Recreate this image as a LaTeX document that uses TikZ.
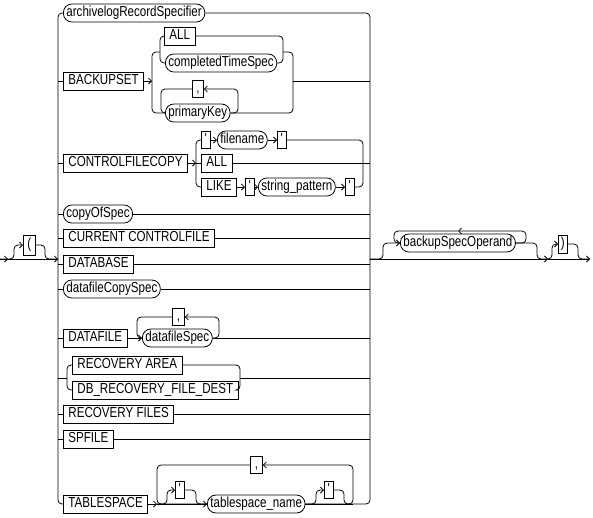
\documentclass[tikz,border=0pt]{standalone}
\usepackage{fontspec}
\setmainfont[FakeStretch=0.8]{Liberation Sans}
\usetikzlibrary{arrows.meta}

\begin{document}
\begin{tikzpicture}[x=1pt, y=-1pt, line width=0.8pt,
  >={Straight Barb[length=3pt,width=6pt]},
  every node/.style={anchor=west, inner xsep=3pt, inner ysep=0pt,
    text height=10.5pt, text depth=3pt,
    minimum height=18pt, minimum width=9pt,
    font=\fontsize{14.5pt}{16pt}\selectfont},
  kw/.style={draw, inner xsep=5pt},
  sym/.style={draw, inner xsep=2.5pt, minimum height=17pt},
  nt/.style={draw, rounded corners=8.5pt},
  rail/.style={rounded corners=4pt}]
\useasboundingbox (0,0) rectangle (593,517);

% main line
\coordinate (IN)  at (0,259);
\coordinate (INA) at (8,259);
\coordinate (LR)  at (58,259);  % left rail
\coordinate (RR)  at (370,259); % right rail
\coordinate (BSA) at (548,259);
\coordinate (OUT) at (590,259);

\draw[->] (IN) -- (INA);
\draw[->] (IN) -- (LR);

% optional (
\node[sym, minimum height=20pt, minimum width=12pt] (LP) at (23,245) {(};
\draw[->, rail] (IN) -| (14,245) -- (LP.west);
\draw[rail] (LP.east) -| (45,259) -- (LR);

% the choices
\node[nt] (ARS) at (63,13)  {archivelogRecordSpecifier};
\node[kw] (BS)  at (63,81)  {BACKUPSET};
\node[kw] (CFC) at (63,163) {CONTROLFILECOPY};
\node[nt] (COS) at (63,214) {copyOfSpec};
\node[kw] (CCF) at (63,238) {CURRENT CONTROLFILE};
\node[kw] (DB)  at (63,264) {DATABASE};
\node[nt] (DCS) at (63,289) {datafileCopySpec};
\node[kw] (DF)  at (63,338) {DATAFILE};
\node[kw] (RA)  at (72,365) {RECOVERY AREA};
\node[kw] (RFD) at (72,390) {DB\_RECOVERY\_FILE\_DEST};
\node[kw] (RF)  at (63,414) {RECOVERY FILES};
\node[kw] (SPF) at (63,439) {SPFILE};
\node[kw] (TS)  at (63,504) {TABLESPACE};

\coordinate (TSA) at (157,504);
\coordinate (TSB) at (353,504);

% rails
\draw[rail] (ARS.west) -| (LR) |- (TS.west);
\draw[rail] (ARS.east) -| (RR) |- (TSB);

\draw (LR |- BS) -- (BS.west);
\draw (LR |- CFC) -- (CFC.west);
\draw (LR |- COS) -- (COS.west);
\draw (LR |- CCF) -- (CCF.west);
\draw (LR |- DB) -- (DB.west);
\draw (LR |- DCS) -- (DCS.west);
\draw (LR |- DF) -- (DF.west);
\draw (LR |- RF) -- (RF.west);
\draw (LR |- SPF) -- (SPF.west);

\draw (COS.east) -- (RR |- COS);
\draw (CCF.east) -- (RR |- CCF);
\draw (DB.east) -- (RR |- DB);
\draw (DCS.east) -- (RR |- DCS);
\draw (RF.east) -- (RR |- RF);
\draw (SPF.east) -- (RR |- SPF);

% BACKUPSET
\coordinate (BKA) at (152,81);
\coordinate (BKB) at (293,81);
\coordinate (BKI) at (160,52);
\coordinate (BKO) at (283,52);
\coordinate (PKL) at (161,89);
\coordinate (PKR) at (238,89);
\node[kw] (BKALL) at (164,36) {ALL};
\node[nt] (CTS) at (165,63) {completedTimeSpec};
\node[sym, minimum width=11pt] (BKC) at (192,89) {,};
\node[nt] (PK) at (165,113) {primaryKey};

\draw[->] (BS.east) -- (BKA);
\draw[rail] (BKALL.west) -| (BKI) |- (CTS.west);
\draw[rail] (BKI) -| (BKA) |- (PK.west);
\draw[rail] (BKALL.east) -| (BKO) |- (CTS.east);
\draw[rail] (BKO) -| (BKB) |- (PK.east);
\draw (BKB) -- (RR |- BKB);
\draw[->, rail] (PK.east) -| (PKR) -- (BKC.east);
\draw[rail] (BKC.west) -| (PKL |- PK) -- (PK.west);

% CONTROLFILECOPY
\coordinate (CFA) at (196,163);
\coordinate (CFB) at (363,163);
\node[sym] (CQ1) at (201,140) {\textquotesingle};
\node[nt]  (FN)  at (217,140) {filename};
\node[sym] (CQ2) at (277,140) {\textquotesingle};
\node[kw]  (CFALL) at (201,163) {ALL};
\node[kw]  (LIKE) at (201,187) {LIKE};
\node[sym] (CQ3) at (245,187) {\textquotesingle};
\node[nt]  (SP)  at (258,187) {string\_pattern};
\node[sym] (CQ4) at (345,187) {\textquotesingle};

\draw[->] (CFC.east) -- (CFA);
\draw[rail] (CQ1.west) -| (CFA) |- (LIKE.west);
\draw (CFA) -- (CFALL.west);
\draw[->] (CQ1.east) -- (FN.west);
\draw[->] (FN.east) -- (CQ2.west);
\draw[->] (LIKE.east) -- (CQ3.west);
\draw[->] (CQ3.east) -- (SP.west);
\draw[->] (SP.east) -- (CQ4.west);
\draw[rail] (CQ2.east) -| (CFB) |- (CQ4.east);
\draw (CFALL.east) -- (RR |- CFALL);

% DATAFILE
\coordinate (DFL) at (137,317);
\coordinate (DFR) at (219,317);
\node[nt] (DFS) at (142,338) {datafileSpec};
\node[sym, minimum width=12pt] (DFC) at (172,317) {,};
\draw[->] (DF.east) -- (DFS.west);
\draw[->, rail] (DFS.east) -| (DFR) -- (DFC.east);
\draw[rail] (DFC.west) -| (DFL |- DFS) -- (DFS.west);
\draw (DFS.east) -- (RR |- DFS);

% RECOVERY AREA
\coordinate (RCA) at (67,378);
\coordinate (RCB) at (240,378);
\draw (LR |- RCA) -- (RCA);
\draw[rail] (RA.west) -| (RCA) |- (RFD.west);
\draw[rail] (RA.east) -| (RCB) |- (RFD.east);
\draw (RCB) -- (RR |- RCB);

% TABLESPACE
\node[sym] (TQ1) at (175,490) {\textquotesingle};
\node[nt]  (TSN) at (207,504) {tablespace\_name};
\node[sym] (TQ2) at (324,490) {\textquotesingle};
\node[sym, minimum width=12pt] (TSC) at (250,465) {,};
\draw[->] (TS.east) -- (TSA);
\draw[->] (TSA) -- (TSN.west);
\draw[->, rail] (TSA) -| (167,490) -- (TQ1.west);
\draw[rail] (TQ1.east) -| (196,504) -- (TSN.west);
\draw[->, rail] (TSN.east) -| (316,490) -- (TQ2.west);
\draw[rail] (TQ2.east) -| (344,504) -- (TSB);
\draw (TSN.east) -- (TSB);
\draw[->, rail] (TSN.east) -| (TSB |- TSC) -- (TSC.east);
\draw[rail] (TSC.west) -| (TSA) -- (TSN.west);

% backupSpecOperand, repeated
\coordinate (BSM) at (458,231);
\node[nt] (BSO) at (400,243) {backupSpecOperand};
\node[sym, minimum height=18pt] (RP) at (558,244) {)};
\draw[->, rail] (RR) -| (383,243) -- (BSO.west);
\draw[rail] (BSO.east) -| (537,259) -- (BSA);
\draw[->] (RR) -- (BSA);
\draw[->, rail] (BSO.east) -| (526,231) -- (BSM);
\draw[rail] (BSM) -| (394,243) -- (BSO.west);

% optional )
\draw[->, rail] (BSA) -| (552,244) -- (RP.west);
\draw[rail] (RP.east) -| (578,259) -- (OUT);
\draw[->] (BSA) -- (OUT);
\end{tikzpicture}
\end{document}
